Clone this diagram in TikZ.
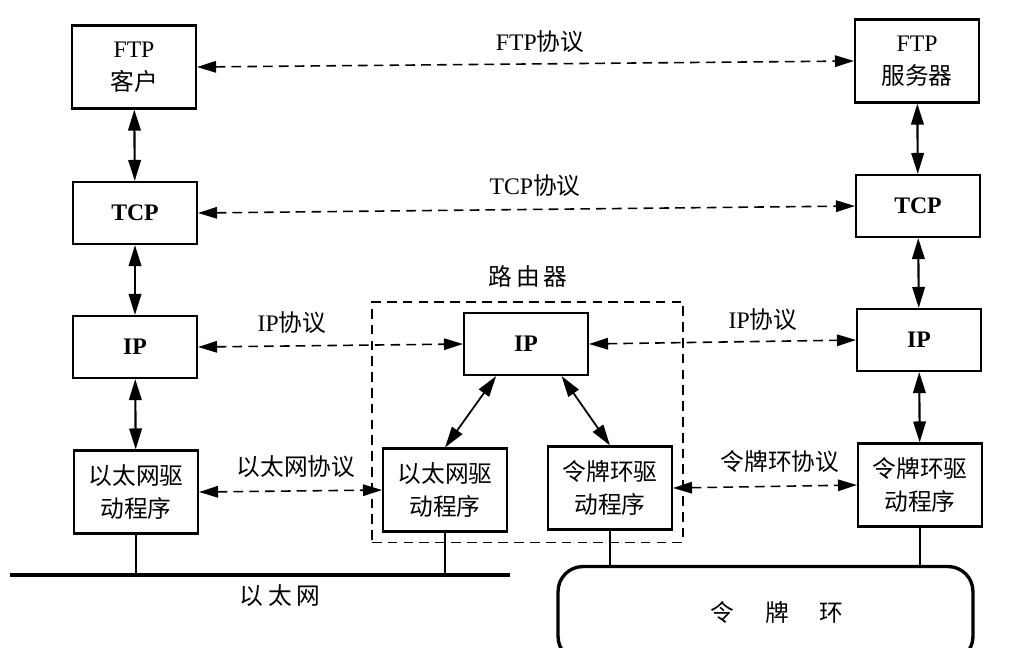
\documentclass[tikz,border=0pt]{standalone}
\usepackage{fontspec}
\setmainfont{Liberation Serif}
\newfontfamily\zhfont{Noto Sans CJK SC}
\newcommand{\zh}[1]{{\zhfont #1}}
\usetikzlibrary{arrows.meta,positioning,fit}
\tikzset{layer/.style={draw=black,line width=1.2pt,fill=white,align=center,
 minimum width=2.48cm,minimum height=1.24cm,inner sep=2pt,font=\fontsize{13.5}{19}\selectfont},
 tall/.style={minimum height=1.66cm},
 link/.style={{Triangle[length=4.2mm,width=2.5mm]}-{Triangle[length=4.2mm,width=2.5mm]},line width=1.2pt},
 peer/.style={{Triangle[length=3.8mm,width=2.3mm]}-{Triangle[length=3.8mm,width=2.3mm]},line width=0.9pt,dash pattern=on 5.5pt off 3.5pt},
 note/.style={font=\fontsize{13.5}{16}\selectfont,inner sep=1pt},
 wire/.style={line width=0.9pt}}

\begin{document}
\begin{tikzpicture}[x=0.02cm,y=-0.02cm]
\useasboundingbox (0,0) rectangle (1010,647);
\clip (0,0) rectangle (1010,647);
% left host
\node[layer,tall] (ftpc) at (134,67) {FTP\\\zh{客户}};
\node[layer] (tcpc) at (135,213) {\textbf{TCP}};
\node[layer] (ipc) at (135,347) {\textbf{IP}};
\node[layer,tall] (ethc) at (136,492) {\zh{以太网驱}\\\zh{动程序}};
% right host
\node[layer,tall] (ftps) at (917,61) {FTP\\\zh{服务器}};
\node[layer] (tcps) at (918,206) {\textbf{TCP}};
\node[layer] (ips) at (919,340) {\textbf{IP}};
\node[layer,tall] (toks) at (920,485) {\zh{令牌环驱}\\\zh{动程序}};
% router
\node[layer] (rip) at (526,344) {\textbf{IP}};
\node[layer,tall] (reth) at (445,490) {\zh{以太网驱}\\\zh{动程序}};
\node[layer,tall] (rtok) at (610,488) {\zh{令牌环驱}\\\zh{动程序}};
\node[draw,line width=0.9pt,dash pattern=on 5.5pt off 3.5pt,inner sep=0.2cm,fit=(rip)(reth)(rtok)] (router) {};
\node[note] (routerlbl) at (528,276) {\zh{路\hspace{0.15em}由\hspace{0.15em}器}};
% networks
\coordinate (busL) at (10,575);
\coordinate (busR) at (510,575);
\draw[line width=2.4pt] (busL)--(busR);
\node[note] (buslbl) at (280,596) {\zh{以\hspace{0.2em}太\hspace{0.2em}网}};
\node[draw,line width=1.9pt,rounded corners=0.5cm,minimum width=8.3cm,minimum height=1.9cm] (ring) at (765.5,614) {};
\node[note] (ringlbl) at (777,612) {\zh{令\hspace{1.3em}牌\hspace{1.3em}环}};
\draw[wire] (ethc.south)--(ethc.south|-busL);
\draw[wire] (reth.south)--(reth.south|-busL);
\draw[wire] (rtok.south)--(rtok.south|-ring.north);
\draw[wire] (toks.south)--(toks.south|-ring.north);
% stacks
\draw[link] (ftpc)--(tcpc);
\draw[link] (tcpc)--(ipc);
\draw[link] (ipc)--(ethc);
\draw[link] (ftps)--(tcps);
\draw[link] (tcps)--(ips);
\draw[link] (ips)--(toks);
\draw[link,line width=1pt] (rip.227)--(reth.north);
\draw[link,line width=1pt] (rip.318)--(rtok.north);
% peer protocols
\draw[peer] (ftpc.east)--(ftps.west);
\node[note] (ftplbl) at (540,42) {FTP\zh{协议}};
\draw[peer] (tcpc.east)--(tcps.west);
\node[note] (tcplbl) at (535,186) {TCP\zh{协议}};
\draw[peer] (ipc.east)--(rip.west);
\node[note] (iplblL) at (292,323) {IP\zh{协议}};
\draw[peer] (rip.east)--(ips.west);
\node[note] (iplblR) at (763,320) {IP\zh{协议}};
\draw[peer] (ethc.east)--(reth.west);
\node[note] (ethlbl) at (296,467) {\zh{以太网协议}};
\draw[peer] (rtok.east)--(toks.west);
\node[note] (toklbl) at (780,462) {\zh{令牌环协议}};
\end{tikzpicture}
\end{document}
